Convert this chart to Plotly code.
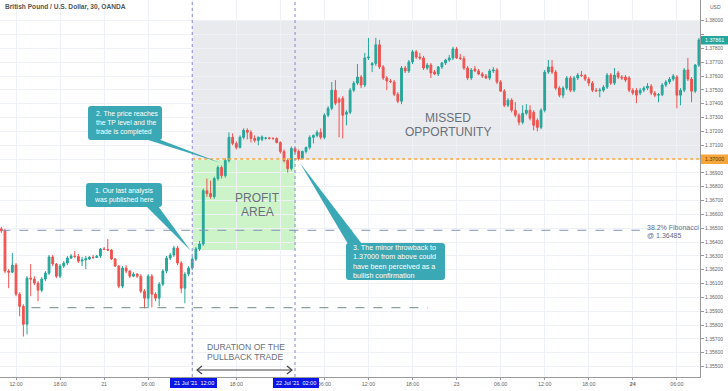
import plotly.graph_objects as go
import pandas as pd

# ---------------- data (GBP/USD 30m) ----------------
times = pd.date_range("2021-07-20 10:00", periods=191, freq="30min")

opens = [1.36495,1.36481,1.36190,1.36182,1.36233,1.36023,1.35935,1.35805,1.36139,1.36132,
1.36103,1.36052,1.36132,1.36175,1.36292,1.36241,1.36153,1.36226,1.36248,1.36284,
1.36299,1.36295,1.36262,1.36270,1.36277,1.36290,1.36288,1.36299,1.36350,1.36346,
1.36342,1.36277,1.36226,1.36081,1.36212,1.36190,1.36153,1.36168,1.36153,1.36044,
1.35994,1.36153,1.36023,1.35994,1.36095,1.36190,1.36284,1.36306,1.36357,1.36248,
1.36066,1.36168,1.36212,1.36277,1.36350,1.36386,1.36771,1.36750,1.36728,1.36859,
1.36939,1.36880,1.36989,1.37157,1.37113,1.37084,1.37157,1.37208,1.37193,1.37149,
1.37135,1.37142,1.37150,1.37152,1.37150,1.37148,1.37120,1.37055,1.36989,1.36931,
1.37077,1.37055,1.37004,1.37055,1.37084,1.37157,1.37171,1.37193,1.37157,1.37317,
1.37367,1.37498,1.37433,1.37440,1.37324,1.37338,1.37498,1.37549,1.37593,1.37535,
1.37731,1.37680,1.37690,1.37826,1.37666,1.37586,1.37564,1.37557,1.37469,1.37418,
1.37658,1.37637,1.37702,1.37775,1.37738,1.37731,1.37658,1.37680,1.37630,1.37615,
1.37666,1.37695,1.37716,1.37731,1.37796,1.37731,1.37727,1.37658,1.37586,1.37651,
1.37637,1.37615,1.37600,1.37586,1.37637,1.37644,1.37557,1.37491,1.37389,1.37426,
1.37353,1.37317,1.37266,1.37331,1.37353,1.37338,1.37280,1.37229,1.37353,1.37629,
1.37666,1.37629,1.37513,1.37462,1.37513,1.37586,1.37498,1.37586,1.37607,1.37603,
1.37578,1.37549,1.37498,1.37494,1.37498,1.37520,1.37607,1.37549,1.37622,1.37593,
1.37593,1.37586,1.37498,1.37498,1.37477,1.37498,1.37513,1.37527,1.37477,1.37462,
1.37466,1.37535,1.37557,1.37578,1.37593,1.37462,1.37498,1.37644,1.37578,1.37491,
1.37680]

highs = [1.36510,1.36495,1.36204,1.36321,1.36248,1.36037,1.35950,1.36153,1.36241,1.36153,
1.36117,1.36146,1.36190,1.36306,1.36306,1.36248,1.36241,1.36262,1.36299,1.36313,
1.36335,1.36313,1.36292,1.36299,1.36299,1.36306,1.36306,1.36357,1.36364,1.36422,
1.36350,1.36284,1.36233,1.36226,1.36233,1.36197,1.36182,1.36175,1.36168,1.36059,
1.36168,1.36168,1.36037,1.36110,1.36204,1.36299,1.36321,1.36372,1.36372,1.36262,
1.36182,1.36226,1.36292,1.36364,1.36408,1.36786,1.36859,1.36844,1.36873,1.36953,
1.36953,1.37004,1.37193,1.37186,1.37128,1.37171,1.37222,1.37222,1.37208,1.37171,
1.37164,1.37171,1.37160,1.37160,1.37157,1.37157,1.37128,1.37069,1.37004,1.37091,
1.37084,1.37069,1.37062,1.37091,1.37171,1.37178,1.37208,1.37222,1.37331,1.37382,
1.37557,1.37571,1.37447,1.37455,1.37353,1.37513,1.37564,1.37687,1.37607,1.37767,
1.37876,1.37702,1.37876,1.37862,1.37680,1.37600,1.37578,1.37571,1.37484,1.37673,
1.37673,1.37716,1.37789,1.37789,1.37767,1.37746,1.37695,1.37695,1.37644,1.37673,
1.37702,1.37724,1.37753,1.37811,1.37811,1.37760,1.37746,1.37673,1.37658,1.37673,
1.37651,1.37629,1.37615,1.37651,1.37666,1.37658,1.37571,1.37506,1.37440,1.37440,
1.37411,1.37331,1.37389,1.37397,1.37389,1.37353,1.37295,1.37367,1.37644,1.37716,
1.37716,1.37644,1.37527,1.37527,1.37600,1.37600,1.37600,1.37622,1.37637,1.37615,
1.37593,1.37564,1.37513,1.37513,1.37535,1.37622,1.37622,1.37658,1.37637,1.37607,
1.37607,1.37600,1.37513,1.37513,1.37513,1.37527,1.37549,1.37542,1.37491,1.37477,
1.37549,1.37571,1.37593,1.37615,1.37607,1.37513,1.37658,1.37731,1.37593,1.37687,
1.37876]

lows = [1.36466,1.36175,1.36066,1.36175,1.36008,1.35863,1.35717,1.35732,1.36008,1.36088,
1.35972,1.36037,1.36117,1.36161,1.36226,1.36139,1.36139,1.36212,1.36233,1.36277,
1.36284,1.36248,1.36226,1.36204,1.36270,1.36277,1.36284,1.36284,1.36342,1.36335,
1.36270,1.36219,1.36066,1.36066,1.36175,1.36139,1.36146,1.36139,1.36030,1.35921,
1.35928,1.35928,1.35972,1.35935,1.36081,1.36175,1.36270,1.36292,1.36233,1.36030,
1.35957,1.36153,1.36197,1.36262,1.36335,1.36372,1.36728,1.36713,1.36713,1.36844,
1.36859,1.36866,1.36975,1.37099,1.37069,1.37077,1.37142,1.37142,1.37120,1.37120,
1.37099,1.37128,1.37140,1.37142,1.37140,1.37113,1.37040,1.36975,1.36902,1.36917,
1.37040,1.36989,1.36997,1.37040,1.37069,1.37113,1.37157,1.37142,1.37142,1.37302,
1.37353,1.37389,1.37157,1.37149,1.37244,1.37324,1.37484,1.37535,1.37513,1.37520,
1.37716,1.37629,1.37673,1.37651,1.37571,1.37498,1.37549,1.37455,1.37404,1.37397,
1.37622,1.37622,1.37687,1.37724,1.37716,1.37644,1.37644,1.37586,1.37607,1.37600,
1.37651,1.37680,1.37702,1.37716,1.37724,1.37716,1.37644,1.37571,1.37571,1.37629,
1.37607,1.37586,1.37578,1.37571,1.37622,1.37542,1.37484,1.37375,1.37375,1.37338,
1.37302,1.37244,1.37251,1.37317,1.37280,1.37207,1.37200,1.37215,1.37338,1.37615,
1.37615,1.37498,1.37447,1.37440,1.37498,1.37484,1.37484,1.37571,1.37593,1.37564,
1.37527,1.37484,1.37484,1.37447,1.37484,1.37506,1.37535,1.37535,1.37578,1.37571,
1.37557,1.37484,1.37462,1.37404,1.37462,1.37484,1.37498,1.37462,1.37447,1.37411,
1.37455,1.37520,1.37542,1.37564,1.37367,1.37389,1.37484,1.37564,1.37411,1.37477,
1.37666]

closes = [1.36481,1.36190,1.36182,1.36233,1.36023,1.35935,1.35805,1.36139,1.36132,1.36103,
1.36052,1.36132,1.36175,1.36292,1.36241,1.36153,1.36226,1.36248,1.36284,1.36299,
1.36295,1.36262,1.36270,1.36280,1.36290,1.36288,1.36299,1.36350,1.36346,1.36342,
1.36277,1.36226,1.36081,1.36212,1.36190,1.36153,1.36168,1.36153,1.36044,1.35994,
1.36153,1.36023,1.35994,1.36095,1.36190,1.36284,1.36306,1.36357,1.36248,1.36066,
1.36168,1.36212,1.36277,1.36350,1.36386,1.36771,1.36750,1.36728,1.36859,1.36939,
1.36880,1.36989,1.37157,1.37113,1.37084,1.37157,1.37208,1.37193,1.37149,1.37135,
1.37157,1.37160,1.37152,1.37150,1.37148,1.37120,1.37055,1.36989,1.36931,1.37077,
1.37055,1.37004,1.37055,1.37084,1.37157,1.37171,1.37193,1.37157,1.37317,1.37367,
1.37498,1.37404,1.37411,1.37317,1.37338,1.37498,1.37549,1.37593,1.37535,1.37731,
1.37738,1.37690,1.37826,1.37666,1.37586,1.37564,1.37560,1.37469,1.37418,1.37658,
1.37637,1.37702,1.37775,1.37738,1.37731,1.37658,1.37680,1.37622,1.37615,1.37666,
1.37695,1.37716,1.37731,1.37796,1.37731,1.37727,1.37658,1.37586,1.37644,1.37637,
1.37615,1.37600,1.37586,1.37637,1.37644,1.37557,1.37491,1.37389,1.37426,1.37353,
1.37317,1.37266,1.37331,1.37353,1.37295,1.37244,1.37229,1.37353,1.37629,1.37666,
1.37629,1.37513,1.37462,1.37513,1.37586,1.37498,1.37586,1.37607,1.37603,1.37578,
1.37549,1.37498,1.37494,1.37498,1.37520,1.37607,1.37549,1.37607,1.37593,1.37586,
1.37571,1.37498,1.37477,1.37462,1.37498,1.37513,1.37527,1.37477,1.37462,1.37466,
1.37535,1.37557,1.37578,1.37600,1.37462,1.37498,1.37644,1.37578,1.37491,1.37680,
1.37861]

fib_level = 1.36485
tp_level = 1.37000
support_level = 1.35925
profit_bottom = 1.36342
missed_top = 1.38000
last_price = 1.37861

x_tick_hours = [-12, -6, 0, 6, 12, 18, 24, 30, 36, 42, 48, 54, 60, 66, 72, 78]
x_tick_text = ["12:00", "18:00", "21", "06:00", "", "18:00", "", "06:00", "12:00",
               "18:00", "23", "06:00", "12:00", "18:00", "<b>24</b>", "06:00"]
y_tick_vals = [round(1.355 + 0.001 * i, 3) for i in range(26)]
y_tick_text = ["" if v in (1.379, 1.370) else f"{v:.5f}" for v in y_tick_vals]

entry_hour = 12      # 21 Jul '21 12:00
exit_hour = 26       # 22 Jul '21 02:00

# ---------------- helpers ----------------
base = pd.Timestamp("2021-07-21 00:00")
hours = [(t - base) / pd.Timedelta(hours=1) for t in times]

PW, PH = 700.0, 377.0  # plot area size in px
X_RANGE = [-14.18, 81.15]
Y_RANGE = [1.35424, 1.38150]
FONT = "Liberation Sans"


def pp(x, y):
    return x / PW, 1 - y / PH


def P(x, y):
    a, b = pp(x, y)
    return f"{a:.5f},{b:.5f}"


def poly(points, close=True):
    s = ""
    for i, (x, y) in enumerate(points):
        s += ("M" if i == 0 else "L") + P(x, y) + " "
    return s + ("Z" if close else "")


def rounded_box(x0, y0, x1, y1, r=3):
    s = f"M{P(x0 + r, y0)} L{P(x1 - r, y0)} Q{P(x1, y0)} {P(x1, y0 + r)} "
    s += f"L{P(x1, y1 - r)} Q{P(x1, y1)} {P(x1 - r, y1)} "
    s += f"L{P(x0 + r, y1)} Q{P(x0, y1)} {P(x0, y1 - r)} "
    s += f"L{P(x0, y0 + r)} Q{P(x0, y0)} {P(x0 + r, y0)} Z"
    return s


TEAL = "#3aa9b5"
shapes = []
annotations = []

# background zones
shapes.append(dict(type="rect", xref="x", yref="y", x0=entry_hour, x1=X_RANGE[1],
                   y0=tp_level, y1=missed_top, fillcolor="#e9eaed", line=dict(width=0),
                   layer="below"))
shapes.append(dict(type="rect", xref="x", yref="y", x0=entry_hour, x1=exit_hour,
                   y0=profit_bottom, y1=tp_level, fillcolor="#cdf4c9", line=dict(width=0),
                   layer="below"))
# level lines
shapes.append(dict(type="line", xref="x", yref="y", x0=-14, x1=72.95, y0=fib_level, y1=fib_level,
                   line=dict(color="#8492b8", width=1, dash="dash")))
shapes.append(dict(type="line", xref="x", yref="y", x0=-9.9, x1=44.1, y0=support_level,
                   y1=support_level, line=dict(color="#6f8c86", width=1, dash="dash")))
shapes.append(dict(type="line", xref="x", yref="y", x0=entry_hour, x1=X_RANGE[1], y0=tp_level,
                   y1=tp_level, line=dict(color="#f5a83a", width=1.5, dash="dot")))
# vertical time markers
for h in (entry_hour, exit_hour):
    shapes.append(dict(type="line", xref="x", yref="paper", x0=h, x1=h, y0=0, y1=1,
                       line=dict(color="#8a86d0", width=1, dash="dot")))

# callouts: box, pointer triangle, text
callouts = [
    ((86, 183, 162, 207), [(146, 206), (158, 206), (191, 251)],
     "1. Our last analysis<br>was published here", 92, 195, 6.8),
    ((88, 106, 162, 140), [(145, 139), (158, 139), (221, 163)],
     "2. The price reaches<br>the TP level and the<br>trade is completed", 94, 123, 6.8),
    ((346, 243, 445, 280), [(348, 244), (362, 244), (300, 163)],
     "3. The minor throwback to<br>1.37000 from above could<br>have been perceived as a<br>bullish confirmation",
     351, 261.5, 7.2),
]
for (bx0, by0, bx1, by1), tri, txt, tx, ty, fs in callouts:
    shapes.append(dict(type="path", xref="paper", yref="paper", path=poly(tri),
                       fillcolor=TEAL, line=dict(width=0)))
    shapes.append(dict(type="path", xref="paper", yref="paper",
                       path=rounded_box(bx0, by0, bx1, by1), fillcolor=TEAL, line=dict(width=0)))
    ax, ay = pp(tx, ty)
    annotations.append(dict(xref="paper", yref="paper", x=ax, y=ay, text=txt,
                            showarrow=False, xanchor="left", yanchor="middle", align="left",
                            font=dict(family=FONT, size=fs, color="white")))

# duration arrow
y_ar = 370
shapes.append(dict(type="path", xref="paper", yref="paper", path=poly([(197, y_ar), (292, y_ar)], False),
                   line=dict(color="#444444", width=1.2)))
for pts in ([(202, 366), (197, 370), (202, 374)], [(287, 366), (292, 370), (287, 374)]):
    shapes.append(dict(type="path", xref="paper", yref="paper", path=poly(pts, False),
                       line=dict(color="#444444", width=1.2)))

# bottom blue date labels
for (lx0, lx1, txt) in ((170, 217, "21 Jul '21&nbsp;&nbsp;12:00"), (273, 319, "22 Jul '21&nbsp;&nbsp;02:00")):
    a0, b0 = pp(lx0, 378)
    a1, b1 = pp(lx1, 388)
    shapes.append(dict(type="rect", xref="paper", yref="paper", x0=a0, x1=a1, y0=b1, y1=b0,
                       fillcolor="#0b17e6", line=dict(width=0)))
    ax, ay = pp((lx0 + lx1) / 2, 383)
    annotations.append(dict(xref="paper", yref="paper", x=ax, y=ay, text=txt, showarrow=False,
                            xanchor="center", yanchor="middle",
                            font=dict(family=FONT, size=5.5, color="#ffffff")))

# price labels on the right axis
for (py0, py1, fill, tcol, txt) in ((36, 44.5, "#26a69a", "#ffffff", f"{last_price:.5f}"),
                                     (154.5, 164, "#f7a63c", "#5a3a00", f"{tp_level:.5f}")):
    a0, b0 = pp(701, py0)
    a1, b1 = pp(728, py1)
    shapes.append(dict(type="rect", xref="paper", yref="paper", x0=a0, x1=a1, y0=b1, y1=b0,
                       fillcolor=fill, line=dict(width=0)))
    ax, ay = pp(714.5, (py0 + py1) / 2)
    annotations.append(dict(xref="paper", yref="paper", x=ax, y=ay, text=txt, showarrow=False,
                            xanchor="center", yanchor="middle",
                            font=dict(family=FONT, size=5.3, color=tcol)))


def text_at(x, y, txt, size, color, anchor="left"):
    ax, ay = pp(x, y)
    annotations.append(dict(xref="paper", yref="paper", x=ax, y=ay, text=txt, showarrow=False,
                            xanchor=anchor, yanchor="middle",
                            font=dict(family=FONT, size=size, color=color)))


text_at(3, 7.5, "<b>British Pound / U.S. Dollar, 30, OANDA</b>", 6.6, "#555555")
text_at(708, 7, "USD", 5, "#666666")
text_at(257, 198, "PROFIT", 12, "#6a707a", "center")
text_at(257, 212, "AREA", 12, "#6a707a", "center")
text_at(448, 118, "MISSED", 12, "#6a707a", "center")
text_at(448, 132, "OPPORTUNITY", 12, "#6a707a", "center")
text_at(205, 346.5, "DURATION OF THE", 8.6, "#6a707a")
text_at(205, 356.5, "PULLBACK TRADE", 8.6, "#6a707a")
text_at(645, 228, "38.2% Fibonacci", 7, "#5f6e8e")
text_at(645, 235.5, "@ 1.36485", 7, "#5f6e8e")

fig = go.Figure(go.Candlestick(
    x=hours, open=opens, high=highs, low=lows, close=closes,
    increasing=dict(line=dict(color="#26a69a", width=1), fillcolor="#26a69a"),
    decreasing=dict(line=dict(color="#ef5350", width=1), fillcolor="#ef5350"),
    whiskerwidth=0, showlegend=False, hoverinfo="skip"))

fig.update_layout(
    width=728, height=391,
    margin=dict(l=0, r=28, t=0, b=14, pad=0, autoexpand=False),
    paper_bgcolor="white", plot_bgcolor="white",
    shapes=shapes, annotations=annotations,
    xaxis=dict(range=X_RANGE, rangeslider=dict(visible=False), tickvals=x_tick_hours,
               ticktext=x_tick_text, showgrid=True, gridcolor="#eef1f6", gridwidth=1,
               zeroline=False, showline=True, linecolor="#9a9a9a", linewidth=1,
               ticks="outside", ticklen=2, tickcolor="#9a9a9a",
               tickfont=dict(family=FONT, size=5.3, color="#666666")),
    yaxis=dict(range=Y_RANGE, side="right", tickvals=y_tick_vals, ticktext=y_tick_text,
               showgrid=True, gridcolor="#eef1f6", gridwidth=1, zeroline=False,
               showline=True, linecolor="#9a9a9a", linewidth=1, ticks="outside", ticklen=3,
               tickcolor="#9a9a9a",
               tickfont=dict(family=FONT, size=5, color="#666666")),
)

fig.write_html("out.html", config={"displayModeBar": False},
               post_script="document.body.style.margin='0';document.body.style.overflow='hidden';")
